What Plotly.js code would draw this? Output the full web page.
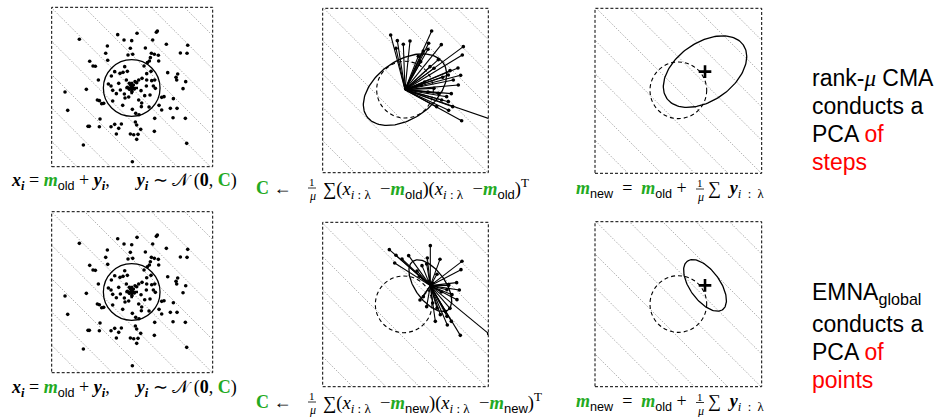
<!DOCTYPE html>
<html><head><meta charset="utf-8">
<script src="https://cdn.plot.ly/plotly-3.0.1.min.js"></script>
<style>body{margin:0;background:#fff}#c{width:937px;height:417px}</style>
</head><body><div id="c"></div>
<script>
// ---- data (units: 1/3 px, relative to m_old, y up) ----
const sampleX = [77,74,-42,-157,16,-23,0,104,-73,63,168,-78,-4,41,-11,3,59,68,56,80,146,166,-126,-116,-109,-72,53,47,81,-21,-13,-26,37,58,45,108,138,133,135,-51,-61,-35,-100,-136,-70,-62,-57,-39,-34,-46,-16,-3,2,8,-7,15,21,31,45,60,69,65,44,162,154,-200,-22,-9,1,28,39,21,55,71,90,97,125,-103,-97,-90,-84,-57,-27,2,29,52,82,90,116,136,-192,12,22,69,161,-95,124,-51,-31,11,15,-131,-127,-97,-62,-39,27,68,-4,6,19,-46,15,165,-145,2,-7,5,-13,10,-20,30];
const sampleY = [171,167,160,146,164,144,142,131,126,144,128,104,119,120,99,101,104,101,91,98,105,104,80,66,65,83,81,76,81,64,50,47,66,50,43,46,42,32,24,49,36,44,24,-4,12,6,-7,14,-6,-17,24,8,2,-3,-4,16,24,29,24,22,24,6,6,19,-2,-12,-18,-27,-11,-8,-23,-36,-21,-1,-28,-26,-32,-36,-38,-47,-46,-39,-52,-64,-56,-57,-52,-66,-61,-61,-67,-76,-80,-91,-91,-93,-89,-109,-108,-102,-111,-115,-115,-116,-116,-121,-124,-130,-138,-140,-139,-138,-154,-166,-171,-221,14,9,2,19,-30,-45];
const selX = [-43,-23,-5,15,-27,80,71,55,175,172,47,75,87,135,130,145,113,160,87,100,125,110,130,143,170,255,95,109,69,159,167,139,131,69,49,59,40,100];
const selY = [164,147,136,146,124,176,139,116,129,104,84,69,64,57,44,29,37,14,4,-11,-21,-31,-36,-51,-93,-88,-51,135,121,65,43,-12,-62,-7,13,23,100,90];
const mOld = [0, 0];
const mNew = [80, 56];
const circleR = 85;
const cmaEll = {a: 140, b: 87, angleDeg: 35};
const emnaEll = {a: 90, b: 45, angleDeg: 126};
const levels = [-500,-400,-300,-200,-100,0,100,200,300,400,500];
const rightText1 = ['rank-<i style="font-family:\'Liberation Serif\'">μ</i> CMA', 'conducts a', 'PCA <span style="color:#ff0000">of</span>', '<span style="color:#ff0000">steps</span>'];
const rightText2 = ['EMNA<sub>global</sub>', 'conducts a', 'PCA <span style="color:#ff0000">of</span>', '<span style="color:#ff0000">points</span>'];

// ---- layout geometry ----
const W = 937, H = 417;
const panels = [
  {box:[51.7,7.3,212.7,166.7], xr:[-240,243], yr:[-236,242]},
  {box:[322.7,8.3,488.3,172.7], xr:[-247,250], yr:[-249,244]},
  {box:[595,8.3,761.7,173.3], xr:[-250,250], yr:[-249,246]},
  {box:[51.7,211.7,212.7,372.7], xr:[-240,243], yr:[-242,241]},
  {box:[322.7,222.3,488.3,386.7], xr:[-243,254], yr:[-247,246]},
  {box:[595,221.7,761.7,386.7], xr:[-250,250], yr:[-248,247]}
];
const GREEN = '#22aa22';
const layout = {width:W, height:H, margin:{l:0,r:0,t:0,b:0}, paper_bgcolor:'#fff', plot_bgcolor:'rgba(0,0,0,0)', showlegend:false, shapes:[], annotations:[]};
const traces = [];

function ellipse(c, e){ const xs=[],ys=[]; const t=e.angleDeg*Math.PI/180;
  for(let k=0;k<=144;k++){const s=2*Math.PI*k/144; const u=e.a*Math.cos(s), v=e.b*Math.sin(s);
    xs.push(c[0]+u*Math.cos(t)-v*Math.sin(t)); ys.push(c[1]+u*Math.sin(t)+v*Math.cos(t));}
  return {xs,ys}; }

panels.forEach((p,i)=>{
  const n = i===0 ? '' : String(i+1);
  layout['xaxis'+n] = {domain:[p.box[0]/W, p.box[2]/W], range:p.xr, visible:false, fixedrange:true, anchor:'y'+n};
  layout['yaxis'+n] = {domain:[1-p.box[3]/H, 1-p.box[1]/H], range:p.yr, visible:false, fixedrange:true, anchor:'x'+n};
  layout.shapes.push({type:'rect', xref:'x'+n+' domain', yref:'y'+n+' domain', x0:0,x1:1,y0:0,y1:1, line:{color:'#000',width:1,dash:'3px,2px'}});
  const dx=[],dy=[]; levels.forEach(c=>{dx.push(-600,600,null); dy.push(c+600,c-600,null);});
  traces.push({x:dx,y:dy,xaxis:'x'+n,yaxis:'y'+n,mode:'lines',line:{color:'#8a8a8a',width:0.9,dash:'1px,1.6px'},hoverinfo:'skip'});
  const solidCircle = (i===0 || i===3);
  layout.shapes.push({type:'circle', xref:'x'+n, yref:'y'+n, x0:mOld[0]-circleR, x1:mOld[0]+circleR, y0:mOld[1]-circleR, y1:mOld[1]+circleR,
    line:{color:'#000', width: solidCircle?1.3:1.1, dash: solidCircle?'solid':'4px,3px'}});
});

function ax(i){ const n=i===0?'':String(i+1); return {xaxis:'x'+n, yaxis:'y'+n}; }
[0,3].forEach(i=>{
  traces.push(Object.assign({x:sampleX,y:sampleY,mode:'markers',marker:{size:3.6,color:'#000'},hoverinfo:'skip'},ax(i)));
  traces.push(Object.assign({x:[mOld[0]],y:[mOld[1]],mode:'markers',marker:{symbol:'cross-thin',size:9,line:{width:2.6,color:'#000'}},hoverinfo:'skip'},ax(i)));
});
function rays(o){ const xs=[],ys=[]; selX.forEach((x,k)=>{xs.push(o[0],x,null); ys.push(o[1],selY[k],null);}); return {xs,ys}; }
[[1,mOld],[4,mNew]].forEach(([i,o])=>{
  const r = rays(o);
  traces.push(Object.assign({x:r.xs,y:r.ys,mode:'lines',line:{color:'#000',width:1.1},hoverinfo:'skip'},ax(i)));
  traces.push(Object.assign({x:selX,y:selY,mode:'markers',marker:{size:3.6,color:'#000'},hoverinfo:'skip'},ax(i)));
});
[[1,mOld,cmaEll],[2,mNew,cmaEll],[4,mNew,emnaEll],[5,mNew,emnaEll]].forEach(([i,c,e])=>{
  const el = ellipse(c,e);
  traces.push(Object.assign({x:el.xs,y:el.ys,mode:'lines',line:{color:'#000',width:1.3},hoverinfo:'skip'},ax(i)));
});
[2,5].forEach(i=>{
  traces.push(Object.assign({x:[mNew[0]],y:[mNew[1]],mode:'markers',marker:{symbol:'cross-thin',size:9,line:{width:2.6,color:'#000'}},hoverinfo:'skip'},ax(i)));
});

// ---- text ----
const SERIF = 'Liberation Serif', SANS = 'Liberation Sans';
const FS = 18;
const bi = s => `<b><i>${s}</i></b>`;
const sans = s => `<span style="font-family:'${SANS}'">${s}</span>`;
const gm = `<span style="color:${GREEN}">${bi('m')}</span>`;
const gC = `<span style="color:${GREEN}"><b>C</b></span>`;
const nb = '\u00a0';
function ann(x,y,text,opts){ layout.annotations.push(Object.assign({xref:'paper',yref:'paper',x:x/W,y:1-y/H,text:text,showarrow:false,xanchor:'center',yanchor:'middle',font:{family:SERIF,size:FS,color:'#000'}},opts||{})); }
function fraction(x,base){
  ann(x,base-11,'1',{font:{family:SERIF,size:11,color:'#000'}});
  ann(x,base+3,'<i>μ</i>',{font:{family:SERIF,size:12,color:'#000'}});
  layout.shapes.push({type:'line',xref:'paper',yref:'paper',x0:(x-4)/W,x1:(x+4)/W,y0:1-(base-5)/H,y1:1-(base-5)/H,line:{color:'#000',width:0.8}});
}
const sub = s => `<sub>${s}</sub>`;
const iLam = `<i>i</i>${nb}:${nb}λ`;
[[187,193,194,'old'],[393,407,407.5,'new']].forEach(([b1,b2,b3,which])=>{
  const c = b => b - 5;
  ann(123.5,c(b1),`${bi('x')}${sub(bi('i'))}${nb}=${nb}${gm}${sub(sans('old'))}${nb}+${nb}${bi('y')}${sub(bi('i'))},${nb}${nb}${nb}${nb}${nb}${nb}${bi('y')}${sub(bi('i'))}${nb}∼${nb}𝒩${nb}(<b>0</b>,${nb}${gC})`);
  ann(294,c(b2),`${gC}${nb}←`,{xanchor:'right'});
  fraction(312,b2);
  ann(321,c(b2),`∑(<i>x</i>${sub(iLam)}${nb}${nb}−${gm}${sub(sans(which))})(<i>x</i>${sub(iLam)}${nb}${nb}−${gm}${sub(sans(which))})<sup>T</sup>`,{xanchor:'left',font:{family:SERIF,size:18.6,color:'#000'}});
  ann(689,c(b3),`${gm}${sub(sans('new'))}${nb}${nb}=${nb}${nb}${gm}${sub(sans('old'))}${nb}+`,{xanchor:'right'});
  fraction(700,b3);
  ann(706,c(b3),`∑${nb}${nb}${bi('y')}${sub(`<i>i</i>${nb}${nb}:${nb}${nb}λ`)}`,{xanchor:'left'});
});
const r1y = [78,106,134,162], r2y = [293,324,352,380];
rightText1.forEach((t,k)=>ann(810,r1y[k],t,{xanchor:'left',font:{family:SANS,size:23,color:'#000'}}));
rightText2.forEach((t,k)=>ann(810,r2y[k],t,{xanchor:'left',font:{family:SANS,size:23,color:'#000'}}));

Plotly.newPlot('c', traces, layout, {staticPlot:true, displayModeBar:false});
</script></body></html>
